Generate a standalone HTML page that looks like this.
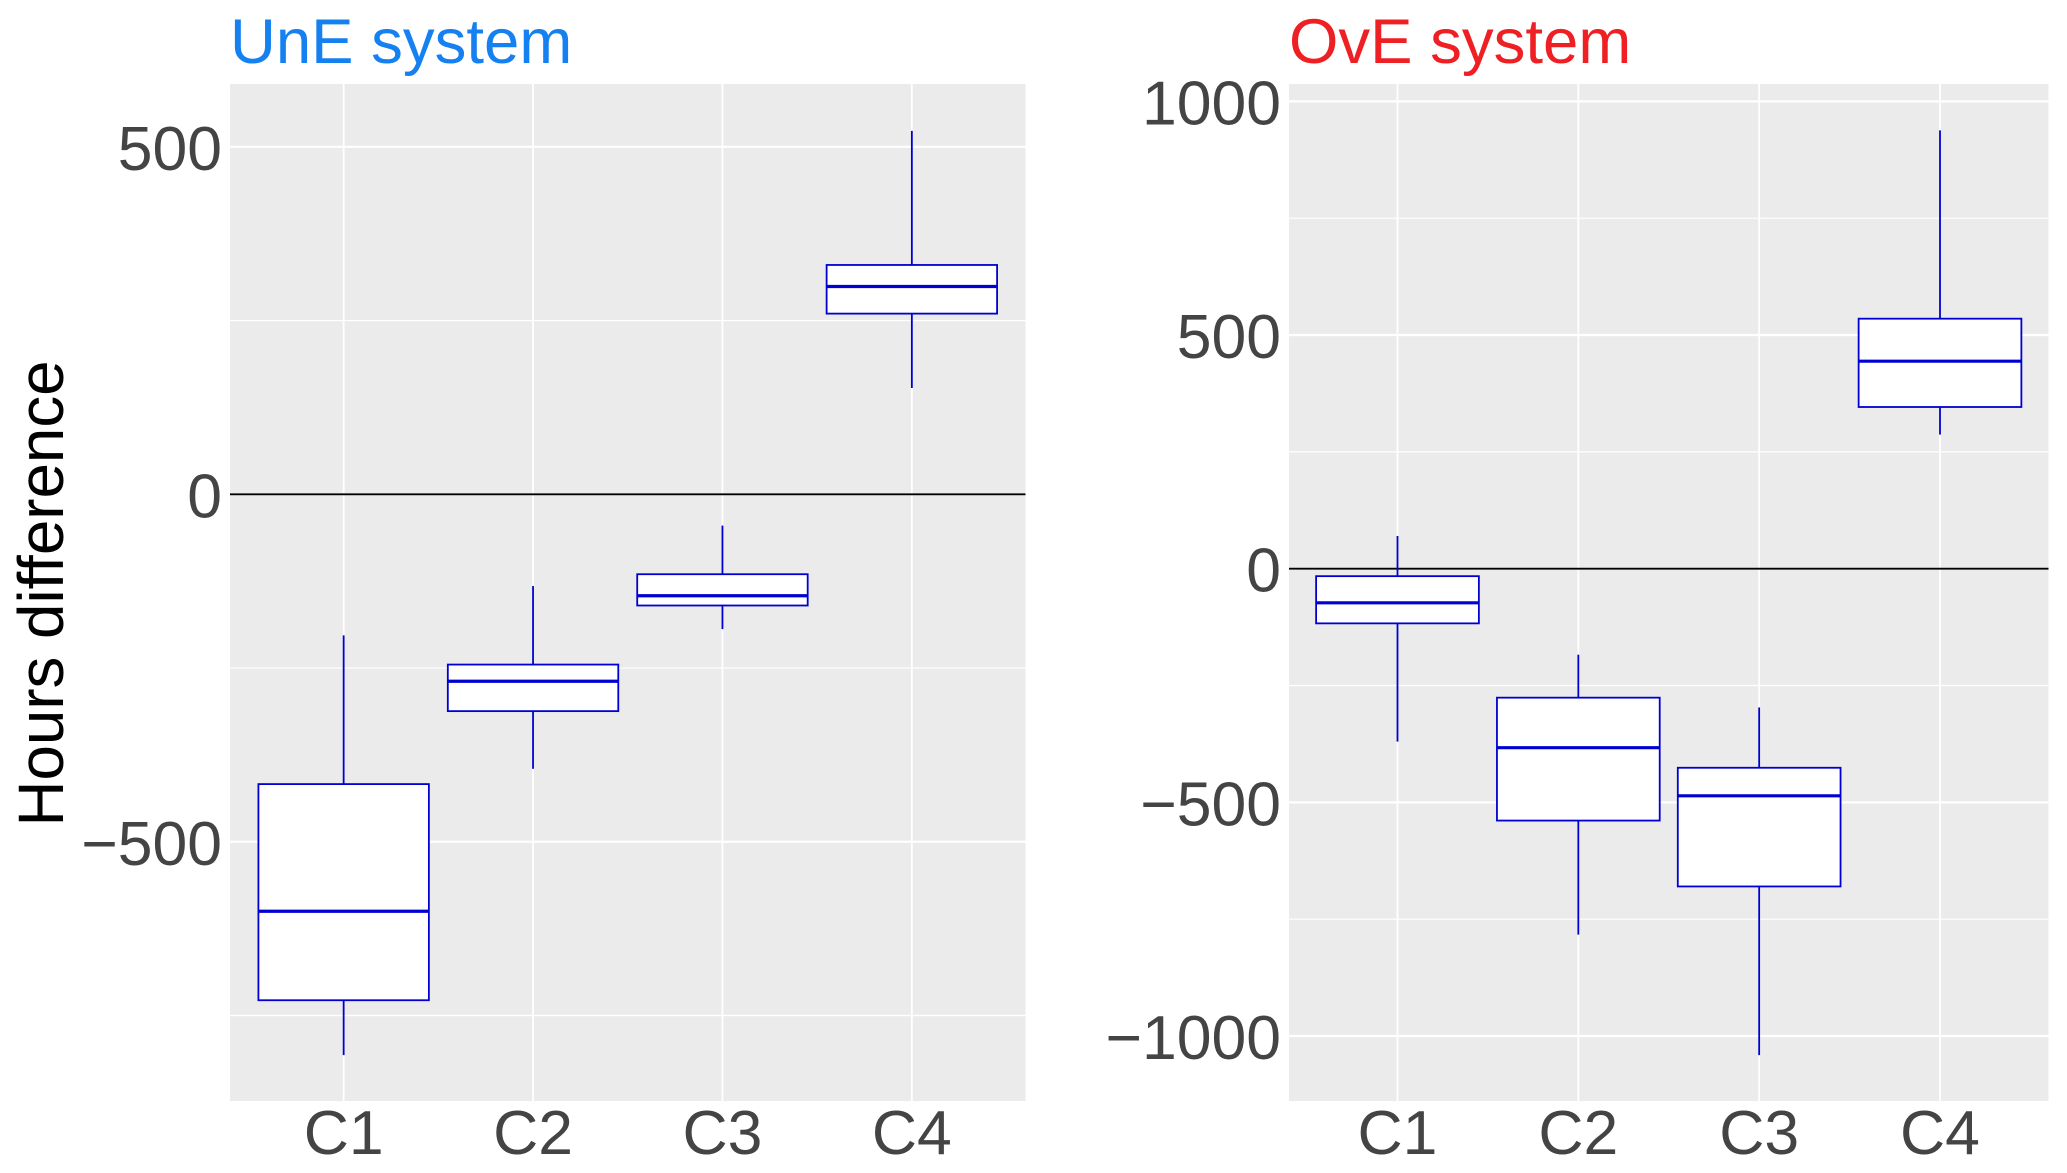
<!DOCTYPE html>
<html lang="en">
<head>
<meta charset="utf-8">
<title>UnE and OvE system hours difference</title>
<style>
  html, body { margin: 0; padding: 0; background: #ffffff; }
  svg { display: block; font-family: "Liberation Sans", Arial, sans-serif; }
</style>
</head>
<body>
<svg id="figure" xmlns="http://www.w3.org/2000/svg" width="2067" height="1173" viewBox="0 0 2067 1173">
  <rect x="0" y="0" width="2067" height="1173" fill="#ffffff"/>
  <text transform="translate(63,826.5) scale(1.01,1) rotate(-90)" font-size="63.7" fill="#000000">Hours difference</text>
  <g id="une-panel"></g>
  <g id="ove-panel"></g>
</svg>
<script>
const categories = ["C1", "C2", "C3", "C4"];

const uneWhiskerHigh = [-203, -132, -45, 523];
const uneQ3 = [-417, -245, -115, 330];
const uneMedian = [-600, -269, -146, 299];
const uneQ1 = [-728, -312, -160, 260];
const uneWhiskerLow = [-807, -395, -194, 153];
const uneMajorTicks = [500, 0, -500];
const uneMinorTicks = [250, -250, -750];
const uneDomain = [-873, 590.4];

const oveWhiskerHigh = [70, -184, -297, 938];
const oveQ3 = [-16, -276, -426, 535];
const oveMedian = [-73, -383, -486, 444];
const oveQ1 = [-117, -539, -680, 346];
const oveWhiskerLow = [-370, -783, -1041, 287];
const oveMajorTicks = [1000, 500, 0, -500, -1000];
const oveMinorTicks = [750, 250, -250, -750];
const oveDomain = [-1139.1, 1037.2];

const SVG_NS = "http://www.w3.org/2000/svg";
const BLUE = "#0000d2";
const TOP = 84;
const BOTTOM = 1101;

function make(tag, parent, attrs, text) {
  const el = document.createElementNS(SVG_NS, tag);
  for (const k in attrs) el.setAttribute(k, attrs[k]);
  if (text !== undefined) el.textContent = text;
  parent.appendChild(el);
  return el;
}

function formatTick(v) {
  return v < 0 ? "\u2212" + Math.abs(v) : String(v);
}

function drawPanel(cfg) {
  const root = document.getElementById(cfg.id);
  const left = cfg.left;
  const right = cfg.right;
  const unit = (right - left) / (categories.length + 0.2);
  const xScale = i => left + (0.6 + i) * unit;
  const yScale = v => BOTTOM - (v - cfg.domain[0]) / (cfg.domain[1] - cfg.domain[0]) * (BOTTOM - TOP);

  const panelBg = make("rect", root, { x: left, y: TOP, width: right - left, height: BOTTOM - TOP, fill: "#ebebeb" });
  
  

  cfg.minor.forEach(v => {
    const line = make("line", root, { x1: left, x2: right, y1: yScale(v), y2: yScale(v), stroke: "#ffffff", "stroke-width": 1.2 });
    
    
  });
  cfg.major.forEach(v => {
    const line = make("line", root, { x1: left, x2: right, y1: yScale(v), y2: yScale(v), stroke: "#ffffff", "stroke-width": 2.2 });
    
    
  });
  categories.forEach((c, i) => {
    const line = make("line", root, { x1: xScale(i), x2: xScale(i), y1: TOP, y2: BOTTOM, stroke: "#ffffff", "stroke-width": 1.8 });
    
    
  });

  const zero = make("line", root, { x1: left, x2: right, y1: yScale(0), y2: yScale(0), stroke: "#000000", "stroke-width": 1.8 });
  
  

  const boxW = 0.9 * unit;
  categories.forEach((c, i) => {
    const x = xScale(i);
    const g = make("g", root, {});
    
    

    const upper = make("line", g, { x1: x, x2: x, y1: yScale(cfg.hi[i]), y2: yScale(cfg.q3[i]), stroke: BLUE, "stroke-width": 1.8 });
    
    

    const lower = make("line", g, { x1: x, x2: x, y1: yScale(cfg.q1[i]), y2: yScale(cfg.lo[i]), stroke: BLUE, "stroke-width": 1.8 });
    
    

    const box = make("rect", g, {
      x: x - boxW / 2,
      y: yScale(cfg.q3[i]),
      width: boxW,
      height: yScale(cfg.q1[i]) - yScale(cfg.q3[i]),
      fill: "#ffffff",
      stroke: BLUE,
      "stroke-width": 1.8
    });
    
    

    const med = make("line", g, { x1: x - boxW / 2, x2: x + boxW / 2, y1: yScale(cfg.med[i]), y2: yScale(cfg.med[i]), stroke: BLUE, "stroke-width": 3.2 });
    
    

    const label = make("text", root, { x: x, y: 1154, "text-anchor": "middle", "font-size": 62.5, fill: "#444444" }, c);
    
    
  });

  cfg.major.forEach(v => {
    const label = make("text", root, { x: cfg.labelRight, y: yScale(v) + 23, "text-anchor": "end", "font-size": 62.5, fill: "#444444" }, formatTick(v));
    
    
  });

  const title = make("text", root, { x: left + cfg.titleDx, y: 63, "font-size": 63.5, fill: cfg.titleColor }, cfg.title);
  
  
}

drawPanel({
  id: "une-panel", left: 230, right: 1025.5, labelRight: 222, titleDx: 0, title: "UnE system", titleColor: "#1580f0",
  domain: uneDomain, major: uneMajorTicks, minor: uneMinorTicks,
  hi: uneWhiskerHigh, q3: uneQ3, med: uneMedian, q1: uneQ1, lo: uneWhiskerLow
});
drawPanel({
  id: "ove-panel", left: 1289, right: 2048.5, labelRight: 1281, titleDx: 0, title: "OvE system", titleColor: "#ee2024",
  domain: oveDomain, major: oveMajorTicks, minor: oveMinorTicks,
  hi: oveWhiskerHigh, q3: oveQ3, med: oveMedian, q1: oveQ1, lo: oveWhiskerLow
});
</script>
</body>
</html>
